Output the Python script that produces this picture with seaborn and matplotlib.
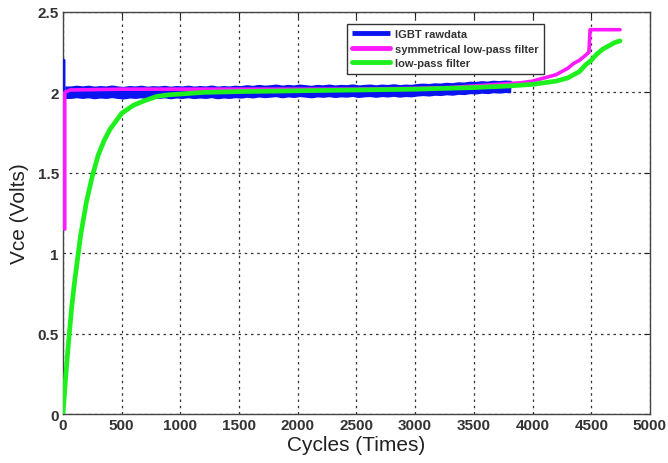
import numpy as np
import pandas as pd
import matplotlib
matplotlib.use("Agg")
import matplotlib.pyplot as plt
import seaborn as sns

# IGBT raw Vce: start-up spike, then a noisy band around 2 V
raw_spike_cycles = [8, 8, 20]
raw_spike_vce = [2.2, 1.99, 2.0]
raw_cycles = np.arange(20, 3851, 50)
raw_vce = [
    1.998, 1.998, 2.003, 1.998, 2.003, 1.996, 2.001, 1.998, 2.004, 1.998,
    1.995, 2.001, 1.998, 2.003, 1.996, 2.0, 1.998, 2.002, 1.996, 2.001,
    1.998, 2.003, 1.997, 2.001, 1.998, 2.004, 1.996, 2.001, 1.998, 2.003,
    2.0, 2.006, 2.001, 2.008, 2.003, 2.006, 2.01, 2.002, 2.008, 2.004,
    2.01, 2.006, 2.002, 2.008, 2.005, 2.01, 2.004, 2.008, 2.006, 2.011,
    2.004, 2.008, 2.01, 2.005, 2.01, 2.007, 2.012, 2.006, 2.01, 2.008,
    2.013, 2.016, 2.013, 2.018, 2.016, 2.021, 2.018, 2.024, 2.022, 2.028,
    2.026, 2.031, 2.028, 2.034, 2.031, 2.035, 2.033,
]

# Symmetrical (zero-phase) low-pass filter output
sym_cycles = [15, 15, 60, 500, 1000, 2000, 2500, 3000, 3300, 3500, 3700,
              3900, 4000, 4100, 4200, 4250, 4300, 4350, 4400, 4450, 4480,
              4490, 4745]
sym_vce = [1.15, 2.0, 2.015, 2.02, 2.02, 2.02, 2.02, 2.025, 2.03, 2.04, 2.05,
           2.06, 2.07, 2.09, 2.11, 2.13, 2.15, 2.18, 2.2, 2.23, 2.25,
           2.39, 2.39]

# Causal low-pass filter output
lp_cycles = [0, 25, 50, 75, 100, 150, 200, 250, 300, 350, 400, 500, 600,
             700, 800, 900, 1000, 1200, 1500, 2000, 2500, 3000, 3500, 3800,
             4000, 4200, 4300, 4400, 4450, 4500, 4550, 4600, 4650, 4700, 4745]
lp_vce = [0.0, 0.25, 0.47, 0.67, 0.83, 1.11, 1.32, 1.48, 1.61, 1.70, 1.77,
          1.87, 1.92, 1.95, 1.975, 1.985, 1.99, 2.0, 2.005, 2.01, 2.015,
          2.02, 2.03, 2.04, 2.05, 2.07, 2.09, 2.13, 2.17, 2.2, 2.24, 2.27,
          2.29, 2.31, 2.32]

x_ticks = [0, 500, 1000, 1500, 2000, 2500, 3000, 3500, 4000, 4500, 5000]
y_ticks = [0, 0.5, 1, 1.5, 2, 2.5]
y_tick_labels = ["0", "0.5", "1", "1.5", "2", "2.5"]

spike = pd.DataFrame({"Cycles": raw_spike_cycles, "Vce": raw_spike_vce})
raw = pd.DataFrame({"Cycles": raw_cycles, "Vce": raw_vce})
sym = pd.DataFrame({"Cycles": sym_cycles, "Vce": sym_vce})
lp = pd.DataFrame({"Cycles": lp_cycles, "Vce": lp_vce})

sns.set_style("white")
plt.rcParams["font.family"] = ["Liberation Sans", "DejaVu Sans"]

fig = plt.figure(figsize=(6.68, 4.64), dpi=100)
ax = fig.add_axes([0.0943, 0.1056, 0.8787, 0.8664])

blue = "#0a14f0"
sns.lineplot(data=spike, x="Cycles", y="Vce", ax=ax, color=blue,
             linewidth=2.2, sort=False, estimator=None, zorder=3)
sns.lineplot(data=raw, x="Cycles", y="Vce", ax=ax, color=blue,
             linewidth=9, sort=False, estimator=None,
             label="IGBT rawdata", zorder=3, solid_capstyle="butt")
sns.lineplot(data=sym, x="Cycles", y="Vce", ax=ax, color="#ff19ff",
             linewidth=2.6, sort=False, estimator=None,
             label="symmetrical low-pass filter", zorder=4)
sns.lineplot(data=lp, x="Cycles", y="Vce", ax=ax, color="#1ef01e",
             linewidth=3.4, sort=False, estimator=None,
             label="low-pass filter", zorder=5)

ax.set_xlim(0, 5000)
ax.set_ylim(0, 2.5)
ax.set_xticks(x_ticks)
ax.set_xticklabels([str(t) for t in x_ticks])
ax.set_yticks(y_ticks)
ax.set_yticklabels(y_tick_labels)
ax.tick_params(direction="in", length=4, width=0.8, colors="#222222",
               labelsize=11, pad=3, top=True, right=True)
for lbl in ax.get_xticklabels() + ax.get_yticklabels():
    lbl.set_fontweight("bold")
    lbl.set_color("#333333")

ax.grid(True, color="#333333", linestyle=(0, (2.0, 3.0)), linewidth=0.9)
ax.set_axisbelow(True)
for sp in ax.spines.values():
    sp.set_color("#444444")
    sp.set_linewidth(1.0)

ax.set_xlabel("Cycles (Times)", fontsize=15, color="#222222", labelpad=2)
ax.set_ylabel("Vce (Volts)", fontsize=15, color="#222222", labelpad=6)

leg = ax.legend(loc="upper left", bbox_to_anchor=(0.474, 0.985),
                frameon=True, fancybox=False, framealpha=1,
                edgecolor="#333333", handlelength=3.4, handletextpad=0.4,
                borderpad=0.5, labelspacing=0.4,
                prop={"size": 8, "weight": "bold"})
leg.get_frame().set_linewidth(1.0)
for line in leg.get_lines():
    line.set_linewidth(3.5)
for txt in leg.get_texts():
    txt.set_color("#333333")

fig.savefig("out.png", dpi=100)
